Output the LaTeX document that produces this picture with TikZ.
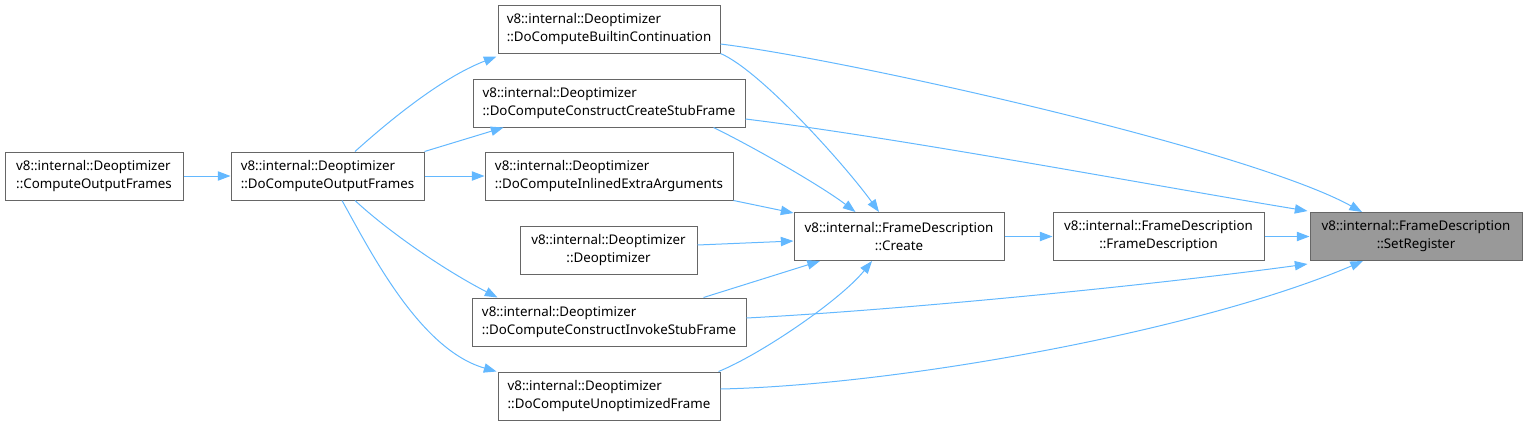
\documentclass[tikz,border=0pt]{standalone}
\usepackage{fontspec}
\usepackage{xcolor}
\usepackage{tikz}
\usetikzlibrary{arrows.meta,calc}
\newfontfamily\dxfont{Noto Sans}
\definecolor{edgeblue}{HTML}{63B8FF}
\definecolor{boxline}{HTML}{666666}
\definecolor{curfill}{HTML}{999999}

\begin{document}
\begin{tikzpicture}[
  x=0.75pt, y=0.75pt,
  fn/.style={draw=boxline, line width=0.75pt, fill=white,
             minimum height=36pt, inner xsep=3pt,
             font=\dxfont\fontsize{10}{13.5}\selectfont, align=left},
  fnc/.style={fn, align=center},
  cur/.style={fnc, fill=curfill},
  call/.style={-{Triangle[length=9.5pt,width=7pt]}, line width=0.75pt, edgeblue}
]
\useasboundingbox (0,0) rectangle (1527,-426);

% Callers on the left
\node[fn, minimum width=133.5pt] (cof) at (94,-176)
      {v8::internal::Deoptimizer\\::ComputeOutputFrames};
\node[fn, minimum width=144.75pt] (docof) at (327.5,-176)
      {v8::internal::Deoptimizer\\::DoComputeOutputFrames};

% Middle column
\node[fn, minimum width=166.5pt] (builtin) at (609,-29)
      {v8::internal::Deoptimizer\\::DoComputeBuiltinContinuation};
\node[fn, minimum width=204pt] (createstub) at (609,-103)
      {v8::internal::Deoptimizer\\::DoComputeConstructCreateStubFrame};
\node[fn, minimum width=186pt] (inlined) at (609,-176)
      {v8::internal::Deoptimizer\\::DoComputeInlinedExtraArguments};
\node[fnc, minimum width=132.75pt] (deopt) at (608.5,-250)
      {v8::internal::Deoptimizer\\::Deoptimizer};
\node[fn, minimum width=205.5pt] (invoke) at (609,-322)
      {v8::internal::Deoptimizer\\::DoComputeConstructInvokeStubFrame};
\node[fn, minimum width=166.5pt] (unopt) at (609,-396)
      {v8::internal::Deoptimizer\\::DoComputeUnoptimizedFrame};

% Right chain
\node[fnc, minimum width=157.5pt] (create) at (899,-236.5)
      {v8::internal::FrameDescription\\::Create};
\node[fnc, minimum width=158.25pt] (fd) at (1158.5,-236.5)
      {v8::internal::FrameDescription\\::FrameDescription};
\node[cur, minimum width=159pt] (setreg) at (1416,-236.5)
      {v8::internal::FrameDescription\\::SetRegister};

% Edges from the left
\draw[call] (cof) -- (docof);
\draw[call] ($(docof.north)+(27.5,0)$) .. controls +(30,27) and +(-57,-22) .. ($(builtin.south west)+(-1,-3)$);
\draw[call] (docof.north east) -- ($(createstub.south west)+(31,0)$);
\draw[call] (docof) -- (inlined);
\draw[call] ($(docof.south)+(27.5,0)$) .. controls +(30,-28) and +(-58,30) .. ($(invoke.north west)+(26,0)$);
\draw[call] ($(docof.south)+(14.5,0)$) .. controls +(28,-50) and +(-77,22) .. ($(unopt.north west)+(-1,0)$);

% Edges into Create
\draw[call] (builtin.south east) .. controls +(40,-17) and +(-34,47) .. ($(create.north)+(-20,0)$);
\draw[call] ($(createstub.south east)+(-32,0)$) .. controls +(37,-18) and +(-35.5,27) .. ($(create.north)+(-43.5,0)$);
\draw[call] (inlined.south east) -- ($(create.north west)+(0,-1)$);
\draw[call] ($(deopt.east)+(0,5)$) -- ($(create.west)+(0,-4.5)$);
\draw[call] ($(invoke.north east)+(-43,0)$) -- ($(create.south)+(-79,0)$);
\draw[call] ($(unopt.north east)+(-2,0)$) .. controls +(42,17) and +(-32,-39.5) .. ($(create.south)+(-27,0)$);

% Edges into SetRegister
\draw[call] (create) -- (fd);
\draw[call] (fd) -- (setreg);
\draw[call] ($(builtin.east)+(0,-15)$) .. controls +(130,-16) and +(-112,62) .. ($(setreg.north)+(-54,0)$);
\draw[call] ($(createstub.east)+(0,-16)$) .. controls +(155,-19) and +(-158,26) .. ($(setreg.north west)+(-2,1)$);
\draw[call] ($(invoke.east)+(0,4)$) .. controls +(154,8) and +(-158,-21.5) .. ($(setreg.south west)+(-2,-3)$);
\draw[call] ($(unopt.east)+(0,7)$) .. controls +(180,4) and +(-163,-69.5) .. ($(setreg.south)+(-53,0)$);

\end{tikzpicture}
\end{document}
